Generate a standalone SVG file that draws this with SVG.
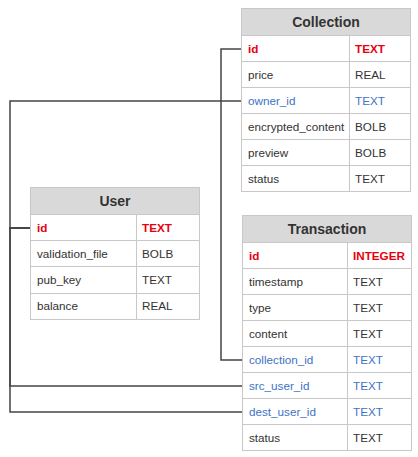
<svg xmlns="http://www.w3.org/2000/svg" width="418" height="457" viewBox="0 0 418 457">
<style>
.bg{fill:#ffffff;stroke:#c8c8c8;stroke-width:1}
.hd{fill:#d9d9d9;stroke:#c8c8c8;stroke-width:1}
.ln{stroke:#c8c8c8;stroke-width:1;fill:none}
.t{font-family:"Liberation Sans",Arial,sans-serif;font-size:11.7px;fill:#333333}
.h{font-family:"Liberation Sans",Arial,sans-serif;font-size:14px;font-weight:bold;fill:#333333;text-anchor:middle}
.pk{fill:#e8000f;font-weight:bold}
.fk{fill:#3d73c4}
.c{stroke:#444444;stroke-width:1.5;fill:none}
</style>
<rect width="418" height="457" fill="#ffffff"/>
<g id="connectors">
<polyline class="c" points="241,49 221,49 221,360 243,360"/>
<polyline class="c" points="30,228 10,228 10,101 241,101"/>
<polyline class="c" points="30,228 10,228 10,386 243,386"/>
<polyline class="c" points="30,228 10,228 10,412 243,412"/>
</g>
<g id="Collection">
<rect class="bg" x="241.5" y="8.5" width="169" height="183"/>
<rect class="hd" x="241.5" y="8.5" width="169" height="27"/>
<text class="h" x="326" y="27">Collection</text>
<path class="ln" d="M241.5 61.5H410.5M241.5 87.5H410.5M241.5 113.5H410.5M241.5 139.5H410.5M241.5 165.5H410.5M349.5 35.5V191.5"/>
<text class="t pk" x="248" y="53">id</text><text class="t pk" x="355" y="53">TEXT</text>
<text class="t" x="248" y="79">price</text><text class="t" x="355" y="79">REAL</text>
<text class="t fk" x="248" y="105">owner_id</text><text class="t fk" x="355" y="105">TEXT</text>
<text class="t" x="248" y="131">encrypted_content</text><text class="t" x="355" y="131">BOLB</text>
<text class="t" x="248" y="157">preview</text><text class="t" x="355" y="157">BOLB</text>
<text class="t" x="248" y="183">status</text><text class="t" x="355" y="183">TEXT</text>
</g>
<g id="User">
<rect class="bg" x="30.5" y="187.5" width="169" height="132"/>
<rect class="hd" x="30.5" y="187.5" width="169" height="27"/>
<text class="h" x="115" y="206">User</text>
<path class="ln" d="M30.5 240.5H199.5M30.5 266.5H199.5M30.5 293.5H199.5M136.5 214.5V319.5"/>
<text class="t pk" x="37" y="232">id</text><text class="t pk" x="142" y="232">TEXT</text>
<text class="t" x="37" y="258">validation_file</text><text class="t" x="142" y="258">BOLB</text>
<text class="t" x="37" y="284">pub_key</text><text class="t" x="142" y="284">TEXT</text>
<text class="t" x="37" y="310">balance</text><text class="t" x="142" y="310">REAL</text>
</g>
<g id="Transaction">
<rect class="bg" x="242.5" y="215.5" width="169" height="235"/>
<rect class="hd" x="242.5" y="215.5" width="169" height="27"/>
<text class="h" x="327" y="234">Transaction</text>
<path class="ln" d="M242.5 268.5H411.5M242.5 294.5H411.5M242.5 320.5H411.5M242.5 346.5H411.5M242.5 372.5H411.5M242.5 398.5H411.5M242.5 424.5H411.5M347.5 242.5V450.5"/>
<text class="t pk" x="249" y="260">id</text><text class="t pk" x="353" y="260">INTEGER</text>
<text class="t" x="249" y="286">timestamp</text><text class="t" x="353" y="286">TEXT</text>
<text class="t" x="249" y="312">type</text><text class="t" x="353" y="312">TEXT</text>
<text class="t" x="249" y="338">content</text><text class="t" x="353" y="338">TEXT</text>
<text class="t fk" x="249" y="364">collection_id</text><text class="t fk" x="353" y="364">TEXT</text>
<text class="t fk" x="249" y="390">src_user_id</text><text class="t fk" x="353" y="390">TEXT</text>
<text class="t fk" x="249" y="416">dest_user_id</text><text class="t fk" x="353" y="416">TEXT</text>
<text class="t" x="249" y="442">status</text><text class="t" x="353" y="442">TEXT</text>
</g>
</svg>
